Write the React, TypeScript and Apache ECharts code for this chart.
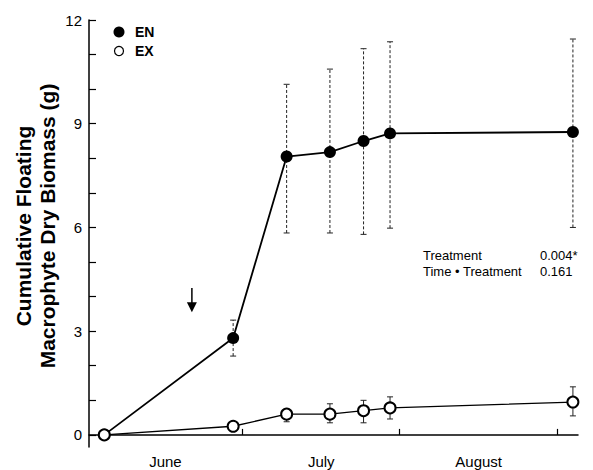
import React, { useEffect, useRef } from "react";
import * as echarts from "echarts";

// Days counted from 1 June
const days = [3, 28.3, 38.8, 47.3, 53.9, 59.1, 95.0];
const enMean = [0, 2.8, 8.05, 8.18, 8.5, 8.72, 8.76];
const enLow = [0, 2.28, 5.84, 5.84, 5.8, 5.98, 6.0];
const enHigh = [0, 3.32, 10.14, 10.58, 11.17, 11.37, 11.45];
const exMean = [0, 0.25, 0.6, 0.6, 0.7, 0.78, 0.95];
const exLow = [0, 0.17, 0.38, 0.35, 0.35, 0.46, 0.55];
const exHigh = [0, 0.33, 0.75, 0.9, 1.0, 1.1, 1.39];

const monthLabels = ["June", "July", "August"];
const monthLabelPos = [15, 45.6, 76.5];
const monthEnds = [30, 61, 92];
const yTicks = [0, 1, 2, 3, 4, 5, 6, 7, 8, 9, 10, 11, 12];
const yLabels = [0, 3, 6, 9, 12];

const arrowData = [[20.2, 4.25, 3.55]];

const seriesNames = ["EN", "EX"];
const statRows = [
  ["Treatment", "0.004*"],
  ["Time \u2022 Treatment", "0.161"],
];

const FONT = "Liberation Sans, Arial, Helvetica, sans-serif";

export default function App() {
  const ref = useRef<HTMLDivElement>(null);
  useEffect(() => {
    if (!ref.current) return;
    const chart = echarts.init(ref.current, undefined, { renderer: "svg" });

    const errRender = (dashed: boolean) => (params: any, api: any) => {
      const x = api.value(0);
      const lo = api.coord([x, api.value(1)]);
      const hi = api.coord([x, api.value(2)]);
      const w = 3;
      const style = { stroke: "#222", lineWidth: 1, lineDash: dashed ? [3, 2] : undefined };
      const cap = { stroke: "#222", lineWidth: 1 };
      return {
        type: "group",
        children: [
          { type: "line", shape: { x1: lo[0], y1: lo[1], x2: hi[0], y2: hi[1] }, style },
          { type: "line", shape: { x1: lo[0] - w, y1: lo[1], x2: lo[0] + w, y2: lo[1] }, style: cap },
          { type: "line", shape: { x1: hi[0] - w, y1: hi[1], x2: hi[0] + w, y2: hi[1] }, style: cap },
        ],
      };
    };

    const graphics: any[] = [
      {
        type: "text",
        x: 35,
        y: 226,
        rotation: Math.PI / 2,
        style: {
          text: "Cumulative Floating\nMacrophyte Dry Biomass (g)",
          font: `bold 21px ${FONT}`,
          fill: "#000",
          align: "center",
          verticalAlign: "middle",
          lineHeight: 24,
        },
      },
      { type: "circle", shape: { cx: 119, cy: 32, r: 5.5 }, style: { fill: "#000" } },
      { type: "circle", shape: { cx: 119, cy: 51, r: 4.5 }, style: { fill: "#fff", stroke: "#000", lineWidth: 1.2 } },
      { type: "text", x: 135, y: 32, style: { text: seriesNames[0], font: `bold 14px ${FONT}`, fill: "#000", verticalAlign: "middle" } },
      { type: "text", x: 135, y: 51, style: { text: seriesNames[1], font: `bold 14px ${FONT}`, fill: "#000", verticalAlign: "middle" } },
    ];
    statRows.forEach((row, i) => {
      graphics.push({ type: "text", x: 423, y: 255 + i * 16, style: { text: row[0], font: `13px ${FONT}`, fill: "#000", verticalAlign: "middle" } });
      graphics.push({ type: "text", x: 540, y: 255 + i * 16, style: { text: row[1], font: `13px ${FONT}`, fill: "#000", verticalAlign: "middle" } });
    });

    chart.setOption({
      animation: false,
      grid: { left: 89, right: 15, top: 20, bottom: 23, containLabel: false },
      xAxis: {
        type: "value",
        min: 0,
        max: 96,
        axisLine: { lineStyle: { color: "#000", width: 1.5 } },
        axisTick: { inside: true, length: 6, lineStyle: { color: "#000", width: 1.2 }, customValues: monthEnds },
        axisLabel: {
          customValues: monthLabelPos,
          formatter: (v: number) => {
            const i = monthLabelPos.indexOf(v);
            return i >= 0 ? monthLabels[i] : "";
          },
          color: "#000",
          fontSize: 15,
          fontFamily: FONT,
          margin: 7,
        },
        splitLine: { show: false },
      },
      yAxis: {
        type: "value",
        min: -0.35,
        max: 12,
        axisLine: { show: true, lineStyle: { color: "#000", width: 1.5 } },
        axisTick: { show: true, inside: true, length: 7, lineStyle: { color: "#000", width: 1.2 }, customValues: yTicks },
        axisLabel: { customValues: yLabels, color: "#000", fontSize: 15, fontFamily: FONT, margin: 7 },
        splitLine: { show: false },
      },
      graphic: graphics,
      series: [
        {
          type: "custom",
          name: "EN err",
          z: 1,
          renderItem: errRender(true),
          encode: { x: 0, y: [1, 2] },
          data: days.map((d, i) => [d, enLow[i], enHigh[i]]),
        },
        {
          type: "custom",
          name: "EX err",
          z: 1,
          renderItem: errRender(false),
          encode: { x: 0, y: [1, 2] },
          data: days.map((d, i) => [d, exLow[i], exHigh[i]]),
        },
        {
          type: "line",
          name: seriesNames[0],
          z: 3,
          symbol: "circle",
          symbolSize: 12,
          itemStyle: { color: "#000" },
          lineStyle: { color: "#000", width: 1.8 },
          data: days.map((d, i) => [d, enMean[i]]),
        },
        {
          type: "line",
          name: seriesNames[1],
          z: 4,
          symbol: "circle",
          symbolSize: 11,
          itemStyle: { color: "#fff", borderColor: "#000", borderWidth: 2 },
          lineStyle: { color: "#000", width: 1.3 },
          data: days.map((d, i) => [d, exMean[i]]),
        },
        {
          type: "custom",
          name: "arrow",
          z: 5,
          encode: { x: 0, y: [1, 2] },
          renderItem: (params: any, api: any) => {
            const x = api.value(0);
            const top = api.coord([x, api.value(1)]);
            const tip = api.coord([x, api.value(2)]);
            return {
              type: "group",
              children: [
                { type: "line", shape: { x1: top[0], y1: top[1], x2: tip[0], y2: tip[1] - 8 }, style: { stroke: "#000", lineWidth: 1.5 } },
                {
                  type: "polygon",
                  shape: { points: [[tip[0] - 5, tip[1] - 10], [tip[0] + 5, tip[1] - 10], [tip[0], tip[1]]] },
                  style: { fill: "#000" },
                },
              ],
            };
          },
          data: arrowData,
        },
      ],
    });
    return () => chart.dispose();
  }, []);
  return <div ref={ref} style={{ width: 593, height: 470, position: "absolute", left: 0, top: 0, background: "#fff" }} />;
}
